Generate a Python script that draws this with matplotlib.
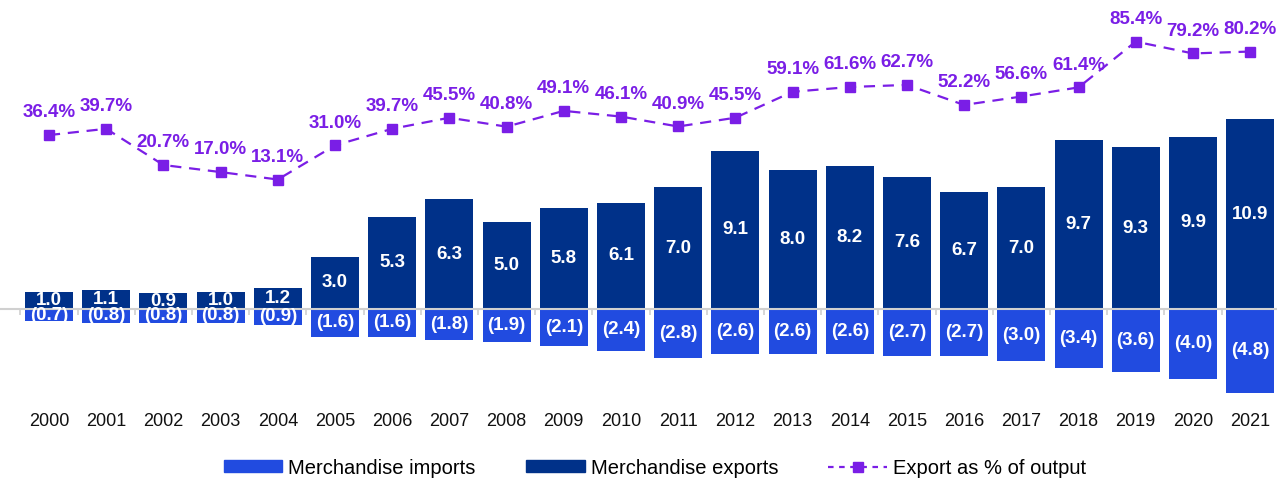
# grafico a barre: export e import di merci con la quota export su output (linea)
import matplotlib
matplotlib.use("Agg")
import matplotlib.pyplot as plt
from matplotlib.ticker import FixedLocator
from matplotlib.patches import Patch
from matplotlib.lines import Line2D

anni = [str(a) for a in range(2000, 2022)]
export = [1.0, 1.1, 0.9, 1.0, 1.2, 3.0, 5.3, 6.3, 5.0, 5.8, 6.1, 7.0,
          9.1, 8.0, 8.2, 7.6, 6.7, 7.0, 9.7, 9.3, 9.9, 10.9]
import_ = [0.7, 0.8, 0.8, 0.8, 0.9, 1.6, 1.6, 1.8, 1.9, 2.1, 2.4, 2.8,
           2.6, 2.6, 2.6, 2.7, 2.7, 3.0, 3.4, 3.6, 4.0, 4.8]
quota_export = [36.4, 39.7, 20.7, 17.0, 13.1, 31.0, 39.7, 45.5, 40.8, 49.1, 46.1,
                40.9, 45.5, 59.1, 61.6, 62.7, 52.2, 56.6, 61.4, 85.4, 79.2, 80.2]

# colori
BLU_IMPORT = "#214BE0"
BLU_EXPORT = "#003189"
VIOLA = "#7A1EE6"

plt.rcParams["font.family"] = ["Liberation Sans", "DejaVu Sans"]

fig = plt.figure(figsize=(12.77, 4.83), dpi=100)
ax = fig.add_axes([0.0, 83 / 483, 1.0, 395 / 483])

x = list(range(len(anni)))
larghezza = 0.84

# barre export (positive) e import (negative)
ax.bar(x, export, width=larghezza, color=BLU_EXPORT, zorder=2)
ax.bar(x, [-v for v in import_], width=larghezza, color=BLU_IMPORT, zorder=2)

# etichette al centro delle barre
for i in x:
    ax.text(i, export[i] / 2, f"{export[i]:.1f}", ha="center", va="center",
            color="white", fontsize=13.5, fontweight="bold", zorder=4)
    ax.text(i, -import_[i] / 2, f"({import_[i]:.1f})", ha="center", va="center",
            color="white", fontsize=13.5, fontweight="bold", zorder=4)

ax.set_xlim(-0.857, 21.47)
ax.set_ylim(-5.23, 17.47)

# asse dello zero grigio con piccole tacche tra le barre
for lato in ["top", "right", "left"]:
    ax.spines[lato].set_visible(False)
ax.spines["bottom"].set_position(("data", 0))
ax.spines["bottom"].set_color("#D0D0D0")
ax.spines["bottom"].set_linewidth(1.5)
ax.spines["bottom"].set_zorder(3)
ax.set_yticks([])
ax.set_xticks(x)
ax.set_xticklabels(anni, fontsize=13, color="#111111")
ax.tick_params(axis="x", which="major", length=0, pad=75)
ax.xaxis.set_minor_locator(FixedLocator([i + 0.5 for i in range(-1, 22)]))
ax.tick_params(axis="x", which="minor", length=4, width=1.2, color="#D0D0D0")

# linea della quota export su asse secondario
ax2 = ax.twinx()
ax2.plot(x, quota_export, color=VIOLA, linestyle=(0, (5, 3.5)), linewidth=1.6,
         marker="s", markersize=6.5, zorder=5)
for i in x:
    ax2.annotate(f"{quota_export[i]:.1f}%", (i, quota_export[i]), xytext=(0, 16),
                 textcoords="offset points", ha="center", va="center",
                 color=VIOLA, fontsize=13.5, fontweight="bold")
ax2.set_ylim(-102.5, 104.6)
ax2.axis("off")

# legenda in basso
maniglie = [
    Patch(color=BLU_IMPORT, label="Merchandise imports"),
    Patch(color=BLU_EXPORT, label="Merchandise exports"),
    Line2D([], [], color=VIOLA, linestyle=(0, (2.5, 2.5)), linewidth=1.6, marker="s",
           markersize=6.5, label="Export as % of output"),
]
fig.legend(handles=maniglie, loc="center", bbox_to_anchor=(655 / 1277, 15 / 483),
           ncol=3, frameon=False, fontsize=14.5, handlelength=2.9, handleheight=0.55,
           handletextpad=0.3, columnspacing=2.5, borderpad=0)

fig.savefig("out.png", dpi=100)
